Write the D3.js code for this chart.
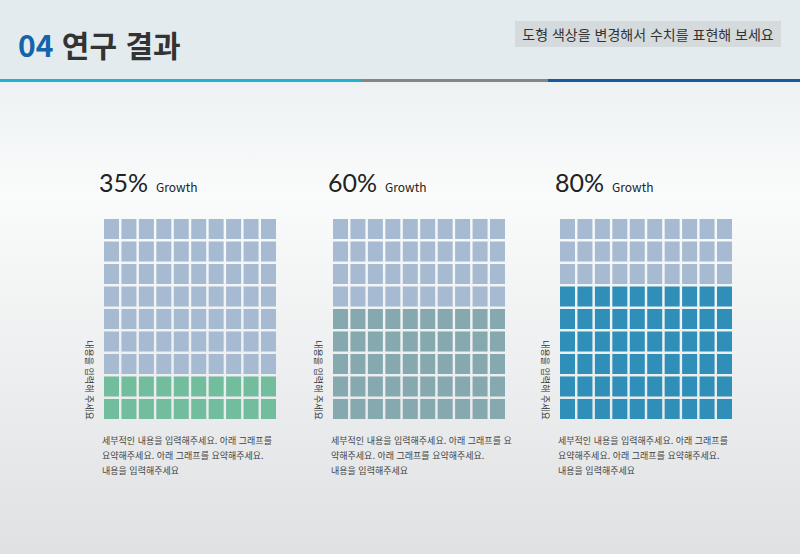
<!doctype html>
<html lang="ko">
<head>
<meta charset="utf-8" />
<script src="https://d3js.org/d3.v7.min.js"></script>
<style>
  body { margin: 0; }
  svg { display: block; font-family: "Noto Sans CJK KR", "Noto Sans", sans-serif; }
</style>
</head>
<body>
<svg id="main" width="800" height="554"></svg>
<script>
  // data
  const percents = [35, 60, 80];
  const filledRows = [2, 5, 6]; // rows of 9 coloured from the bottom
  const fillColors = ['#72bd9e', '#86a9b0', '#2f8fb9'];
  const panelX = [104, 333, 560];
  const rows = 9;
  const cols = 10;
  const caption = ['세부적인 내용을 입력해주세요. 아래  그래프를', '요약해주세요. 아래  그래프를 요약해주세요.', '내용을 입력해주세요'];
  const caption2 = ['세부적인 내용을 입력해주세요. 아래  그래프를 요', '약해주세요. 아래  그래프를 요약해주세요.', '내용을 입력해주세요'];
  const captions = [caption, caption2, caption];

  const svg = d3.select('#main');
  const defs = svg.append('defs');
  const grad = defs.append('linearGradient').attr('id', 'bg').attr('x1', 0).attr('y1', 0).attr('x2', 0).attr('y2', 1);
  grad.append('stop').attr('offset', '0').attr('stop-color', '#e4ebee');
  grad.append('stop').attr('offset', '0.35').attr('stop-color', '#fafbfb');
  grad.append('stop').attr('offset', '1').attr('stop-color', '#dfe1e3');
  svg.append('rect').attr('width', 800).attr('height', 554).attr('fill', 'url(#bg)');
  svg.append('rect').attr('width', 800).attr('height', 80).attr('fill', '#e4ebee');

  // header
  const title = svg.append('text').attr('x', 18).attr('y', 57).attr('font-size', 30).attr('font-weight', 'bold');
  title.append('tspan').attr('fill', '#1464ac').text('04 ');
  title.append('tspan').attr('fill', '#333').text('연구 결과');
  svg.append('rect').attr('x', 515).attr('y', 21).attr('width', 266).attr('height', 26).attr('fill', '#d5dadd');
  svg.append('text').attr('x', 648).attr('y', 40).attr('text-anchor', 'middle').attr('font-size', 14).attr('fill', '#333').text('도형 색상을 변경해서 수치를 표현해 보세요');
  [[0, 362, '#1fb3d0'], [362, 548, '#858585'], [548, 800, '#145a9e']].forEach(([a, b, c]) => {
    svg.append('rect').attr('x', a).attr('y', 79).attr('width', b - a).attr('height', 3).attr('fill', c);
  });

  const x = d3.scaleBand().domain(d3.range(cols)).range([0, 172]).paddingInner(0.14);
  const y = d3.scaleBand().domain(d3.range(rows)).range([219, 419]).paddingInner(0.11);

  percents.forEach((p, i) => {
    const g = svg.append('g').attr('transform', `translate(${panelX[i]},0)`);
    const head = g.append('text').attr('x', -5).attr('y', 192).attr('fill', '#222');
    head.append('tspan').attr('font-size', 25).attr('font-family', 'Lato, sans-serif').text(p + '%');
    head.append('tspan').attr('font-size', 12).attr('dx', 8).text('Growth');

    const cells = d3.range(rows * cols).map(k => ({ c: k % cols, r: Math.floor(k / cols) }));
    g.selectAll('rect.cell').data(cells).join('rect')
      .attr('class', 'cell')
      .attr('x', d => x(d.c)).attr('y', d => y(d.r))
      .attr('width', x.bandwidth()).attr('height', y.bandwidth())
      .attr('fill', d => d.r >= rows - filledRows[i] ? fillColors[i] : '#a6bbd1');

    g.append('text').attr('transform', 'translate(-18,380) rotate(90)').attr('text-anchor', 'middle')
      .attr('font-size', 9).attr('fill', '#333').text('내용을 입력해 주세요');

    g.selectAll('text.cap').data(captions[i]).join('text').attr('class', 'cap')
      .attr('x', -2).attr('y', (d, j) => 444 + j * 15).attr('font-size', 9).attr('fill', '#444').text(d => d);
  });
</script>
</body>
</html>
